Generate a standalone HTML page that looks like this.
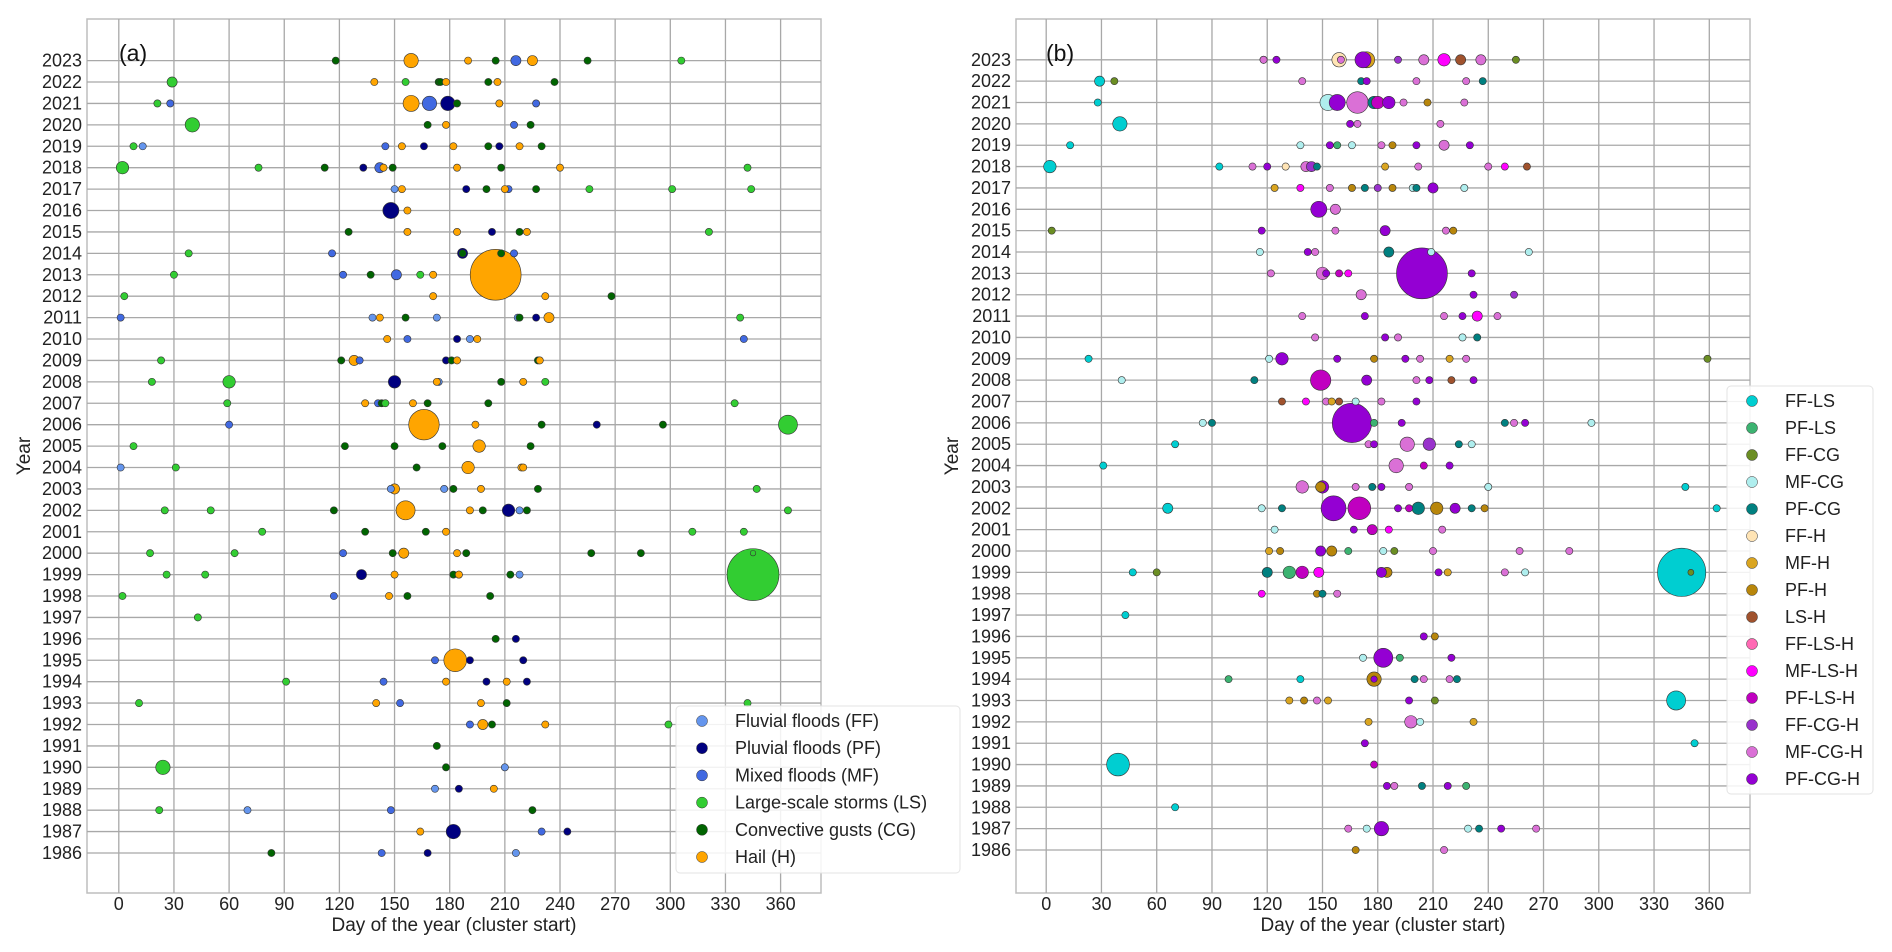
<!DOCTYPE html>
<html><head><meta charset="utf-8">
<style>
html,body{margin:0;padding:0;background:#fff;}
svg{display:block;font-family:"Liberation Sans","DejaVu Sans",sans-serif;}
</style></head>
<body>
<svg id="chart" width="1892" height="952" viewBox="0 0 1892 952" xmlns="http://www.w3.org/2000/svg"></svg>
<script>
// ---------- data ----------
const years = [];
for (let y = 1986; y <= 2023; y++) years.push(y);
const dayTicks = [0,30,60,90,120,150,180,210,240,270,300,330,360];

const aTypes = ['FF','PF','MF','LS','CG','H'];
const aLabels = ['Fluvial floods (FF)','Pluvial floods (PF)','Mixed floods (MF)','Large-scale storms (LS)','Convective gusts (CG)','Hail (H)'];
const aColors = ['#6495ED','#000080','#4169E1','#32CD32','#006400','#FFA500'];

const bTypes = ['FF-LS','PF-LS','FF-CG','MF-CG','PF-CG','FF-H','MF-H','PF-H','LS-H','FF-LS-H','MF-LS-H','PF-LS-H','FF-CG-H','MF-CG-H','PF-CG-H'];
const bColors = ['#00CED1','#3CB371','#6B8E23','#AFEEEE','#008080','#FFE4B5','#DAA520','#B8860B','#A0522D','#FF69B4','#FF00FF','#C000C0','#9932CC','#DA70D6','#9400D3'];

// [day, year, type, size]
const aPoints = [
[118,2023,'CG',1],[159,2023,'H',4],[190,2023,'H',1],[205,2023,'CG',1],[216,2023,'MF',2],[225,2023,'H',2],[255,2023,'CG',1],[306,2023,'LS',1],
[29,2022,'LS',2],[139,2022,'H',1],[156,2022,'LS',1],[174,2022,'CG',1],[175,2022,'CG',1],[178,2022,'H',1],[201,2022,'CG',1],[206,2022,'H',1],[237,2022,'CG',1],
[21,2021,'LS',1],[28,2021,'MF',1],[159,2021,'H',5],[169,2021,'MF',4],[179,2021,'PF',4],[184,2021,'CG',1],[207,2021,'H',1],[227,2021,'MF',1],
[40,2020,'LS',4],[168,2020,'CG',1],[178,2020,'H',1],[215,2020,'MF',1],[224,2020,'CG',1],
[8,2019,'LS',1],[13,2019,'FF',1],[145,2019,'MF',1],[154,2019,'H',1],[166,2019,'PF',1],[182,2019,'H',1],[201,2019,'CG',1],[207,2019,'PF',1],[218,2019,'H',1],[230,2019,'CG',1],
[2,2018,'LS',3],[76,2018,'LS',1],[112,2018,'CG',1],[133,2018,'PF',1],[142,2018,'MF',2],[144,2018,'H',1],[149,2018,'CG',1],[184,2018,'H',1],[208,2018,'CG',1],[240,2018,'H',1],[342,2018,'LS',1],
[150,2017,'FF',1],[154,2017,'H',1],[189,2017,'PF',1],[200,2017,'CG',1],[212,2017,'MF',1],[210,2017,'H',1],[227,2017,'CG',1],[256,2017,'LS',1],[301,2017,'LS',1],[344,2017,'LS',1],
[148,2016,'PF',5],[157,2016,'H',1],
[125,2015,'CG',1],[157,2015,'H',1],[184,2015,'H',1],[203,2015,'PF',1],[218,2015,'CG',1],[222,2015,'H',1],[321,2015,'LS',1],
[38,2014,'LS',1],[116,2014,'MF',1],[187,2014,'PF',2],[187,2014,'CG',1],[208,2014,'CG',1],[215,2014,'MF',1],
[30,2013,'LS',1],[122,2013,'MF',1],[137,2013,'CG',1],[151,2013,'MF',2],[164,2013,'LS',1],[171,2013,'H',1],[205,2013,'H',50],
[3,2012,'LS',1],[171,2012,'H',1],[232,2012,'H',1],[268,2012,'CG',1],
[1,2011,'MF',1],[138,2011,'FF',1],[142,2011,'H',1],[156,2011,'CG',1],[173,2011,'FF',1],[217,2011,'FF',1],[218,2011,'CG',1],[227,2011,'PF',1],[234,2011,'H',2],[338,2011,'LS',1],
[146,2010,'H',1],[157,2010,'MF',1],[184,2010,'PF',1],[191,2010,'FF',1],[195,2010,'H',1],[340,2010,'MF',1],
[23,2009,'LS',1],[121,2009,'CG',1],[131,2009,'MF',1],[128,2009,'H',2],[178,2009,'PF',1],[181,2009,'CG',1],[184,2009,'H',1],[228,2009,'CG',1],[229,2009,'H',1],
[18,2008,'LS',1],[60,2008,'LS',3],[150,2008,'PF',3],[174,2008,'FF',1],[173,2008,'H',1],[208,2008,'CG',1],[220,2008,'H',1],[232,2008,'LS',1],
[59,2007,'LS',1],[134,2007,'H',1],[141,2007,'MF',1],[143,2007,'CG',1],[145,2007,'LS',1],[160,2007,'H',1],[168,2007,'CG',1],[201,2007,'CG',1],[335,2007,'LS',1],
[60,2006,'MF',1],[166,2006,'H',18],[194,2006,'H',1],[230,2006,'CG',1],[260,2006,'PF',1],[296,2006,'CG',1],[364,2006,'LS',7],
[8,2005,'LS',1],[123,2005,'CG',1],[150,2005,'CG',1],[176,2005,'CG',1],[196,2005,'H',3],[224,2005,'CG',1],
[1,2004,'FF',1],[31,2004,'LS',1],[162,2004,'CG',1],[190,2004,'H',3],[219,2004,'H',1],[220,2004,'H',1],
[148,2003,'FF',1],[150,2003,'H',2],[177,2003,'FF',1],[182,2003,'CG',1],[197,2003,'H',1],[228,2003,'CG',1],[347,2003,'LS',1],
[25,2002,'LS',1],[50,2002,'LS',1],[117,2002,'CG',1],[156,2002,'H',7],[191,2002,'H',1],[198,2002,'CG',1],[212,2002,'PF',3],[218,2002,'FF',1],[222,2002,'CG',1],[364,2002,'LS',1],
[78,2001,'LS',1],[134,2001,'CG',1],[167,2001,'CG',1],[178,2001,'H',1],[312,2001,'LS',1],[340,2001,'LS',1],
[17,2000,'LS',1],[63,2000,'LS',1],[122,2000,'MF',1],[149,2000,'CG',1],[155,2000,'H',2],[184,2000,'H',1],[189,2000,'CG',1],[257,2000,'CG',1],[284,2000,'CG',1],
[26,1999,'LS',1],[47,1999,'LS',1],[132,1999,'PF',2],[150,1999,'H',1],[182,1999,'CG',1],[185,1999,'PF',1],[185,1999,'H',1],[213,1999,'CG',1],[218,1999,'FF',1],[345,1999,'LS',52],[345,2000,'LS',0.6],
[2,1998,'LS',1],[117,1998,'MF',1],[147,1998,'H',1],[157,1998,'CG',1],[202,1998,'CG',1],
[43,1997,'LS',1],
[205,1996,'CG',1],[216,1996,'PF',1],
[172,1995,'MF',1],[183,1995,'H',10],[191,1995,'PF',1],[220,1995,'PF',1],
[91,1994,'LS',1],[144,1994,'MF',1],[178,1994,'H',1],[200,1994,'PF',1],[211,1994,'H',1],[222,1994,'PF',1],
[11,1993,'LS',1],[140,1993,'H',1],[153,1993,'MF',1],[197,1993,'H',1],[211,1993,'CG',1],[342,1993,'LS',1],
[191,1992,'MF',1],[198,1992,'H',2],[203,1992,'CG',1],[232,1992,'H',1],[299,1992,'LS',1],
[173,1991,'CG',1],
[24,1990,'LS',4],[178,1990,'CG',1],[210,1990,'FF',1],
[172,1989,'FF',1],[185,1989,'PF',1],[204,1989,'H',1],
[22,1988,'LS',1],[70,1988,'FF',1],[148,1988,'MF',1],[225,1988,'CG',1],
[164,1987,'H',1],[182,1987,'PF',4],[230,1987,'MF',1],[244,1987,'PF',1],
[83,1986,'CG',1],[143,1986,'MF',1],[168,1986,'PF',1],[216,1986,'FF',1]
];

const bPoints = [
[118,2023,'MF-H',1],[118,2023,'MF-CG-H',1],[125,2023,'PF-CG-H',1],[159,2023,'FF-H',4],[160,2023,'MF-CG-H',1],[174,2023,'MF-H',5],[172,2023,'PF-CG-H',5],[191,2023,'FF-CG-H',1],[205,2023,'MF-CG-H',2],[216,2023,'MF-LS-H',3],[225,2023,'LS-H',2],[236,2023,'MF-CG-H',2],[255,2023,'FF-CG',1],
[29,2022,'FF-LS',2],[37,2022,'FF-CG',1],[139,2022,'MF-CG-H',1],[171,2022,'PF-CG',1],[174,2022,'PF-CG-H',1],[201,2022,'MF-CG-H',1],[228,2022,'MF-CG-H',1],[237,2022,'PF-CG',1],
[28,2021,'FF-LS',1],[153,2021,'MF-CG',5],[158,2021,'PF-CG-H',5],[169,2021,'MF-CG-H',9],[178,2021,'PF-CG',3],[180,2021,'PF-LS-H',3],[186,2021,'PF-CG-H',3],[194,2021,'MF-CG-H',1],[207,2021,'PF-H',1],[227,2021,'MF-CG-H',1],
[40,2020,'FF-LS',4],[165,2020,'PF-CG-H',1],[169,2020,'MF-CG-H',1],[214,2020,'MF-CG-H',1],
[13,2019,'FF-LS',1],[138,2019,'MF-CG',1],[154,2019,'PF-CG-H',1],[158,2019,'PF-LS',1],[166,2019,'MF-CG',1],[182,2019,'MF-CG-H',1],[188,2019,'PF-H',1],[201,2019,'PF-CG-H',1],[216,2019,'MF-CG-H',2],[230,2019,'PF-CG-H',1],
[2,2018,'FF-LS',3],[94,2018,'FF-LS',1],[112,2018,'MF-CG-H',1],[120,2018,'PF-CG-H',1],[130,2018,'FF-H',1],[141,2018,'MF-CG-H',2],[144,2018,'FF-CG-H',2],[147,2018,'PF-CG',1],[184,2018,'MF-H',1],[202,2018,'MF-CG-H',1],[240,2018,'MF-CG-H',1],[249,2018,'MF-LS-H',1],[261,2018,'LS-H',1],
[124,2017,'MF-H',1],[138,2017,'MF-LS-H',1],[154,2017,'MF-CG-H',1],[166,2017,'PF-H',1],[173,2017,'PF-CG',1],[180,2017,'FF-CG-H',1],[188,2017,'PF-H',1],[199,2017,'MF-CG',1],[201,2017,'PF-CG',1],[210,2017,'PF-CG-H',2],[227,2017,'MF-CG',1],
[148,2016,'PF-CG-H',5],[157,2016,'MF-CG-H',2],
[3,2015,'FF-CG',1],[117,2015,'PF-CG-H',1],[157,2015,'MF-CG-H',1],[184,2015,'PF-CG-H',2],[217,2015,'MF-CG-H',1],[221,2015,'PF-H',1],
[116,2014,'MF-CG',1],[142,2014,'PF-CG-H',1],[146,2014,'MF-CG-H',1],[186,2014,'PF-CG',2],[209,2014,'MF-CG',1],[262,2014,'MF-CG',1],
[122,2013,'MF-CG-H',1],[150,2013,'MF-CG-H',3],[152,2013,'PF-CG-H',1],[159,2013,'PF-LS-H',1],[164,2013,'MF-LS-H',1],[204,2013,'PF-CG-H',50],[231,2013,'PF-CG-H',1],
[171,2012,'MF-CG-H',2],[232,2012,'PF-CG-H',1],[254,2012,'FF-CG-H',1],
[139,2011,'MF-CG-H',1],[173,2011,'PF-CG-H',1],[216,2011,'MF-CG-H',1],[226,2011,'PF-CG-H',1],[234,2011,'MF-LS-H',2],[245,2011,'MF-CG-H',1],
[146,2010,'MF-CG-H',1],[184,2010,'PF-CG-H',1],[191,2010,'MF-CG-H',1],[226,2010,'MF-CG',1],[234,2010,'PF-CG',1],
[23,2009,'FF-LS',1],[121,2009,'MF-CG',1],[128,2009,'PF-CG-H',3],[158,2009,'PF-CG-H',1],[178,2009,'PF-H',1],[195,2009,'PF-CG-H',1],[203,2009,'MF-CG-H',1],[219,2009,'MF-H',1],[228,2009,'MF-CG-H',1],[359,2009,'FF-CG',1],
[41,2008,'MF-CG',1],[113,2008,'PF-CG',1],[149,2008,'PF-LS-H',8],[174,2008,'PF-CG-H',2],[201,2008,'MF-CG-H',1],[208,2008,'PF-CG-H',1],[220,2008,'LS-H',1],[232,2008,'PF-CG-H',1],
[128,2007,'LS-H',1],[141,2007,'MF-LS-H',1],[152,2007,'MF-CG-H',1],[155,2007,'MF-H',1],[159,2007,'LS-H',1],[168,2007,'MF-CG',1],[182,2007,'MF-CG-H',1],[201,2007,'PF-CG-H',1],
[85,2006,'MF-CG',1],[90,2006,'PF-CG',1],[166,2006,'PF-CG-H',30],[178,2006,'PF-LS',1],[193,2006,'PF-CG-H',1],[249,2006,'PF-CG',1],[254,2006,'MF-CG-H',1],[260,2006,'PF-CG-H',1],[296,2006,'MF-CG',1],
[70,2005,'FF-LS',1],[175,2005,'MF-CG-H',1],[178,2005,'PF-CG-H',1],[196,2005,'MF-CG-H',4],[208,2005,'FF-CG-H',3],[224,2005,'PF-CG',1],[231,2005,'MF-CG',1],
[31,2004,'FF-LS',1],[190,2004,'MF-CG-H',4],[205,2004,'PF-LS-H',1],[219,2004,'PF-CG-H',1],
[139,2003,'MF-CG-H',3],[149,2003,'PF-H',2],[150,2003,'PF-CG-H',3],[168,2003,'MF-CG-H',1],[177,2003,'PF-CG',1],[182,2003,'PF-CG-H',1],[197,2003,'MF-CG-H',1],[240,2003,'MF-CG',1],[347,2003,'FF-LS',1],
[66,2002,'FF-LS',2],[117,2002,'MF-CG',1],[128,2002,'PF-CG',1],[156,2002,'PF-CG-H',12],[170,2002,'PF-LS-H',10],[191,2002,'PF-CG-H',1],[197,2002,'PF-LS-H',1],[202,2002,'PF-CG',3],[212,2002,'PF-H',3],[222,2002,'PF-CG-H',2],[231,2002,'PF-CG',1],[238,2002,'PF-H',1],[364,2002,'FF-LS',1],
[124,2001,'MF-CG',1],[167,2001,'PF-CG-H',1],[177,2001,'PF-LS-H',2],[186,2001,'MF-LS-H',1],[215,2001,'MF-CG-H',1],
[121,2000,'MF-H',1],[127,2000,'PF-H',1],[149,2000,'PF-CG-H',2],[155,2000,'PF-H',2],[164,2000,'PF-LS',1],[183,2000,'MF-CG',1],[189,2000,'FF-CG',1],[210,2000,'MF-CG-H',1],[257,2000,'MF-CG-H',1],[284,2000,'MF-CG-H',1],
[47,1999,'FF-LS',1],[60,1999,'FF-CG',1],[120,1999,'PF-CG',2],[132,1999,'PF-LS',3],[139,1999,'PF-LS-H',3],[148,1999,'MF-LS-H',2],[185,1999,'PF-H',2],[182,1999,'PF-CG-H',2],[213,1999,'PF-CG-H',1],[218,1999,'MF-H',1],[249,1999,'MF-CG-H',1],[260,1999,'MF-CG',1],[345,1999,'FF-LS',45],[350,1999,'FF-CG',0.7],
[117,1998,'MF-LS-H',1],[147,1998,'PF-H',1],[150,1998,'PF-CG',1],[158,1998,'MF-CG-H',1],
[43,1997,'FF-LS',1],
[205,1996,'PF-CG-H',1],[211,1996,'PF-H',1],
[172,1995,'MF-CG',1],[183,1995,'PF-CG-H',7],[192,1995,'PF-LS',1],[220,1995,'PF-CG-H',1],
[99,1994,'PF-LS',1],[138,1994,'FF-LS',1],[178,1994,'PF-H',4],[178,1994,'PF-CG-H',0.8],[200,1994,'PF-CG',1],[205,1994,'MF-CG-H',1],[219,1994,'MF-CG-H',1],[223,1994,'PF-CG',1],
[132,1993,'MF-H',1],[140,1993,'PF-H',1],[147,1993,'MF-CG-H',1],[153,1993,'MF-H',1],[197,1993,'PF-CG-H',1],[211,1993,'FF-CG',1],[342,1993,'FF-LS',7],
[175,1992,'MF-H',1],[198,1992,'MF-CG-H',3],[203,1992,'MF-CG',1],[232,1992,'MF-H',1],
[173,1991,'PF-CG-H',1],[352,1991,'FF-LS',1],
[39,1990,'FF-LS',10],[178,1990,'PF-LS-H',1],
[185,1989,'PF-CG-H',1],[189,1989,'MF-CG-H',1],[204,1989,'PF-CG',1],[218,1989,'PF-CG-H',1],[228,1989,'PF-LS',1],
[70,1988,'FF-LS',1],
[164,1987,'MF-CG-H',1],[174,1987,'MF-CG',1],[182,1987,'PF-CG-H',4],[229,1987,'MF-CG',1],[235,1987,'PF-CG',1],[247,1987,'PF-CG-H',1],[266,1987,'MF-CG-H',1],
[168,1986,'PF-H',1],[216,1986,'MF-CG-H',1]
];

// ---------- drawing ----------
const NS = 'http://www.w3.org/2000/svg';
const svg = document.getElementById('chart');
function mk(tag, attrs, parent) {
  const e = document.createElementNS(NS, tag);
  for (const k in attrs) e.setAttribute(k, attrs[k]);
  (parent || svg).appendChild(e);
  return e;
}
const rScale = s => 3.6 * Math.sqrt(s);

function drawPanel(cfg) {
  const g = mk('g', {});
  
  
  const xs = d => cfg.x0 + d * (cfg.x360 - cfg.x0) / 360;
  const ys = y => cfg.y2023 + (2023 - y) * (cfg.y1986 - cfg.y2023) / 37;

  const frame = mk('rect', {x: cfg.L, y: cfg.T, width: cfg.R - cfg.L, height: cfg.B - cfg.T, fill: '#fff', stroke: '#bdbdbd', 'stroke-width': 1.5}, g);
  
  

  dayTicks.forEach(d => {
    const l = mk('line', {x1: xs(d), x2: xs(d), y1: cfg.T, y2: cfg.B, stroke: '#a8a8a8', 'stroke-width': 1.3}, g);
    
    
    const t = mk('text', {x: xs(d), y: cfg.B + 17, 'font-size': 18, 'text-anchor': 'middle', fill: '#222'}, g);
    t.textContent = d;
    
    
  });
  years.forEach(y => {
    const l = mk('line', {x1: cfg.L, x2: cfg.R, y1: ys(y), y2: ys(y), stroke: '#a8a8a8', 'stroke-width': 1.3}, g);
    
    
    const t = mk('text', {x: cfg.L - 5, y: ys(y) + 6, 'font-size': 18, 'text-anchor': 'end', fill: '#222'}, g);
    t.textContent = y;
    
    
  });

  const pts = cfg.points.slice().sort((a, b) => b[3] - a[3]);
  pts.forEach(p => {
    const c = mk('circle', {cx: xs(p[0]), cy: ys(p[1]), r: rScale(p[3]), fill: cfg.colors[cfg.types.indexOf(p[2])], stroke: '#333', 'stroke-width': 0.6}, g);
    
    
  });

  const pl = mk('text', {x: cfg.L + cfg.labelDx, y: cfg.T + 42, 'font-size': 23, fill: '#111'}, g);
  pl.textContent = cfg.label;
  
  
  const xt = mk('text', {x: (cfg.L + cfg.R) / 2, y: cfg.B + 38, 'font-size': 19, 'text-anchor': 'middle', fill: '#222'}, g);
  xt.textContent = 'Day of the year (cluster start)';
  
  
  const yt = mk('text', {x: 0, y: 0, 'font-size': 19, 'text-anchor': 'middle', fill: '#222', transform: 'translate(' + cfg.yTitleX + ',' + ((cfg.T + cfg.B) / 2) + ') rotate(-90)'}, g);
  yt.textContent = 'Year';
  
  

  const lg = mk('g', {}, g);
  
  
  const box = mk('rect', {x: cfg.lg.x, y: cfg.lg.y, width: cfg.lg.w, height: cfg.lg.h, rx: 4, fill: 'rgba(255,255,255,0.85)', stroke: '#e3e3e3', 'stroke-width': 1}, lg);
  
  
  cfg.legendLabels.forEach((lab, i) => {
    const yy = cfg.lg.y0 + i * cfg.lg.step;
    const c = mk('circle', {cx: cfg.lg.mx, cy: yy, r: 5.5, fill: cfg.colors[i], stroke: '#333', 'stroke-width': 0.5}, lg);
    
    
    const t = mk('text', {x: cfg.lg.tx, y: yy + 6, 'font-size': 18, fill: '#222'}, lg);
    t.textContent = lab;
    
    
  });
}

drawPanel({
  name: 'panel-a', label: '(a)', labelDx: 32, points: aPoints, types: aTypes, colors: aColors, legendLabels: aLabels,
  L: 87, R: 821, T: 19, B: 893, x0: 118.8, x360: 780.6, y2023: 60.6, y1986: 853, yTitleX: 30,
  lg: {x: 676, y: 706, w: 284, h: 167, mx: 702, tx: 735, y0: 721, step: 27.2}
});
drawPanel({
  name: 'panel-b', label: '(b)', labelDx: 30, points: bPoints, types: bTypes, colors: bColors, legendLabels: bTypes,
  L: 1016, R: 1750, T: 19, B: 893, x0: 1046.2, x360: 1709.3, y2023: 59.8, y1986: 850, yTitleX: 958,
  lg: {x: 1727, y: 386, w: 146, h: 408, mx: 1752, tx: 1785, y0: 401, step: 27}
});
</script>
</body></html>
